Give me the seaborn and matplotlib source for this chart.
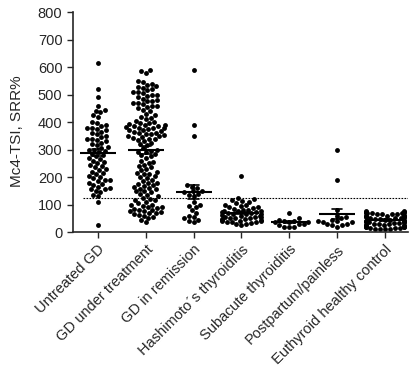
import matplotlib
matplotlib.use("Agg")
import matplotlib.pyplot as plt
import seaborn as sns
import pandas as pd
import warnings
warnings.filterwarnings("ignore")

categories = ["Untreated GD", "GD under treatment", "GD in remission",
              "Hashimoto's thyroiditis", "Subacute thyroiditis",
              "Postpartum/painless", "Euthyroid healthy control"]
tick_labels = ["Untreated GD", "GD under treatment", "GD in remission",
               "Hashimoto\u00b4s thyroiditis", "Subacute thyroiditis",
               "Postpartum/painless", "Euthyroid healthy control"]

untreated_gd = [615, 520, 490, 460, 445, 440, 435, 425, 420, 400, 395, 390, 385,
                380, 380, 375, 370, 365, 360, 355, 350, 345, 340, 340, 335, 330,
                325, 320, 315, 310, 305, 300, 300, 295, 290, 285, 280, 275, 270,
                265, 260, 255, 250, 245, 240, 235, 230, 225, 220, 215, 210, 205,
                200, 195, 190, 190, 185, 180, 175, 170, 165, 160, 155, 155, 150,
                145, 135, 130, 110, 25]
gd_under_treatment = [590, 585, 580, 550, 545, 540, 535, 530, 528, 525, 520, 515,
                      510, 508, 505, 500, 500, 495, 490, 485, 480, 478, 475, 470,
                      468, 465, 460, 460, 455, 450, 445, 440, 430, 425, 420, 415,
                      410, 405, 400, 398, 395, 392, 390, 388, 385, 385, 382, 380,
                      380, 378, 375, 372, 370, 368, 365, 362, 360, 358, 355, 352,
                      350, 348, 345, 342, 340, 338, 335, 330, 325, 320, 315, 305,
                      300, 295, 292, 290, 285, 280, 275, 270, 260, 255, 250, 245,
                      240, 235, 230, 225, 220, 215, 212, 210, 205, 200, 195, 190,
                      185, 180, 178, 175, 170, 168, 165, 160, 158, 155, 150, 148,
                      145, 140, 135, 130, 125, 120, 118, 115, 110, 105, 100, 98,
                      95, 92, 90, 88, 85, 82, 80, 78, 75, 72, 70, 68, 65, 62, 60,
                      55, 50, 45, 35]
gd_remission = [590, 390, 350, 170, 165, 160, 150, 148, 145, 140, 135, 130, 110,
                100, 95, 90, 80, 70, 60, 55, 50, 45, 40, 35]
hashimoto = [205, 125, 120, 115, 112, 110, 105, 100, 98, 95, 92, 90, 88, 85, 82,
             80, 78, 76, 75, 73, 72, 70, 68, 66, 65, 64, 62, 60, 58, 56, 55, 54,
             52, 50, 50, 48, 46, 45, 44, 42, 40, 40, 38, 36, 35, 32, 30, 28, 25]
subacute = [70, 50, 45, 42, 40, 38, 35, 35, 30, 30, 25, 20, 20, 20]
postpartum = [300, 190, 80, 60, 55, 50, 45, 40, 40, 35, 35, 30, 30, 25, 25, 20]
euthyroid = [75, 75, 74, 73, 72, 72, 70, 70, 68, 68, 66, 65, 65, 64, 62, 60, 60,
             58, 57, 55, 55, 54, 52, 50, 50, 48, 47, 45, 45, 44, 42, 40, 40, 38,
             37, 35, 35, 34, 32, 30, 30, 28, 27, 25, 25, 24, 22, 20, 20, 18, 17,
             15, 15, 14, 12, 10, 10, 10]

cutoff = 123

groups = [untreated_gd, gd_under_treatment, gd_remission, hashimoto, subacute,
          postpartum, euthyroid]
rows = []
for cat, vals in zip(categories, groups):
    for v in vals:
        rows.append((cat, v))
df = pd.DataFrame(rows, columns=["group", "value"])

sns.set_style("ticks")
plt.rcParams["font.family"] = ["Liberation Sans", "DejaVu Sans"]

fig = plt.figure(figsize=(4.16, 3.78), dpi=100)
ax = fig.add_axes([0.175, 0.386, 0.806, 0.582])

sns.swarmplot(data=df, x="group", y="value", order=categories, color="black",
              size=3.5, ax=ax, clip_on=False, zorder=2)
sns.pointplot(data=df, x="group", y="value", order=categories, errorbar="se",
              linestyle="none", marker="_", markersize=26, markeredgewidth=1.5,
              capsize=0.22, color="black", err_kws={"linewidth": 1.2}, ax=ax,
              zorder=3)

ax.axhline(cutoff, xmin=0.03, xmax=1.0, color="black", linestyle=(0, (1.5, 1.2)),
           linewidth=0.8, zorder=1)

ax.set_ylim(0, 800)
ax.set_xlim(-0.52, 6.48)
ax.set_yticks(range(0, 801, 100))
ax.set_xticks(range(len(categories)))
ax.set_xticklabels(tick_labels, rotation=45, ha="right", rotation_mode="anchor",
                   fontsize=10.5)
ax.tick_params(axis="y", labelsize=10.5, length=4, width=1)
ax.tick_params(axis="x", length=4, width=1)
ax.set_xlabel("")
ax.set_ylabel("Mc4-TSI, SRR%", fontsize=11)
ax.yaxis.set_label_coords(-0.145, 0.46)
for s in ["left", "bottom"]:
    ax.spines[s].set_linewidth(1.2)
sns.despine(ax=ax)

fig.savefig("out.png", dpi=100)
